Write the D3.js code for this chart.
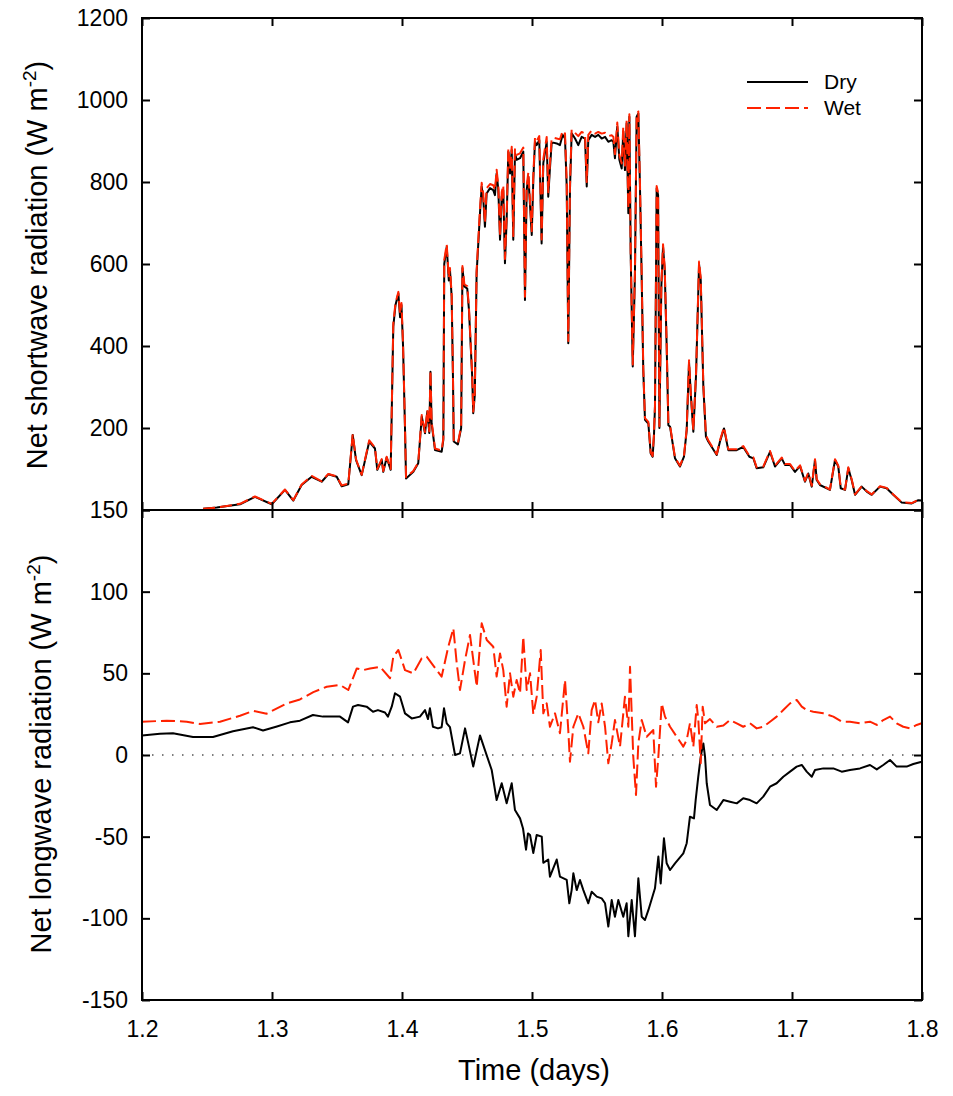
<!DOCTYPE html>
<html>
<head>
<meta charset="utf-8">
<script src="https://cdn.jsdelivr.net/npm/d3@7"></script>
<style>
  body { margin: 0; background: #fff; }
  svg { display: block; font-family: "Liberation Sans", Arial, sans-serif; }
</style>
</head>
<body>
<svg id="chart" width="953" height="1096"></svg>
<script>
// shortwave (top panel) - dry and wet share the same sample times
const swTime = [1.2470, 1.2575, 1.2754, 1.2869, 1.2998, 1.3100, 1.3164, 1.3228, 1.3305, 1.3382,
  1.3433, 1.3498, 1.3536, 1.3587, 1.3621, 1.3646, 1.3690, 1.3748, 1.3792, 1.3810,
  1.3844, 1.3856, 1.3882, 1.3913, 1.3933, 1.3950, 1.3972, 1.3985, 1.3996, 1.4008,
  1.4023, 1.4031, 1.4087, 1.4125, 1.4152, 1.4177, 1.4195, 1.4210, 1.4219, 1.4228,
  1.4254, 1.4305, 1.4318, 1.4325, 1.4344, 1.4360, 1.4369, 1.4382, 1.4392, 1.4398,
  1.4430, 1.4455, 1.4465, 1.4480, 1.4502, 1.4515, 1.4540, 1.4548, 1.4560, 1.4574,
  1.4600, 1.4613, 1.4625, 1.4638, 1.4651, 1.4677, 1.4702, 1.4715, 1.4728, 1.4741,
  1.4754, 1.4767, 1.4779, 1.4792, 1.4805, 1.4818, 1.4831, 1.4844, 1.4856, 1.4869,
  1.4882, 1.4908, 1.4933, 1.4946, 1.4959, 1.4972, 1.4998, 1.5010, 1.5023, 1.5036,
  1.5056, 1.5074, 1.5087, 1.5113, 1.5125, 1.5138, 1.5151, 1.5164, 1.5190, 1.5215,
  1.5236, 1.5254, 1.5267, 1.5279, 1.5292, 1.5305, 1.5331, 1.5356, 1.5382, 1.5408,
  1.5421, 1.5433, 1.5459, 1.5485, 1.5510, 1.5536, 1.5562, 1.5587, 1.5613, 1.5626,
  1.5638, 1.5656, 1.5672, 1.5690, 1.5702, 1.5715, 1.5728, 1.5741, 1.5749, 1.5759,
  1.5775, 1.5792, 1.5805, 1.5818, 1.5831, 1.5844, 1.5856, 1.5869, 1.5895, 1.5913,
  1.5928, 1.5938, 1.5946, 1.5959, 1.5970, 1.5980, 1.5995, 1.6008, 1.6021, 1.6036,
  1.6049, 1.6062, 1.6100, 1.6138, 1.6169, 1.6190, 1.6208, 1.6222, 1.6241, 1.6262,
  1.6285, 1.6298, 1.6318, 1.6338, 1.6356, 1.6421, 1.6446, 1.6477, 1.6510, 1.6574,
  1.6625, 1.6672, 1.6703, 1.6728, 1.6779, 1.6831, 1.6869, 1.6921, 1.6946, 1.6985,
  1.7023, 1.7062, 1.7100, 1.7125, 1.7152, 1.7177, 1.7190, 1.7215, 1.7292, 1.7331,
  1.7356, 1.7375, 1.7408, 1.7433, 1.7459, 1.7485, 1.7536, 1.7575, 1.7613, 1.7677,
  1.7728, 1.7779, 1.7844, 1.7921, 1.7972, 1.8000];

const swDry = [3, 6, 14, 32, 14, 49, 23, 61, 81, 69,
  87, 81, 58, 63, 183, 122, 85, 167, 150, 98,
  122, 93, 128, 98, 447, 500, 528, 470, 500, 400,
  200, 77, 93, 114, 228, 187, 240, 188, 337, 211,
  146, 142, 171, 600, 642, 560, 585, 520, 325, 167,
  160, 200, 590, 545, 540, 488, 325, 236, 280, 577,
  724, 789, 760, 691, 772, 785, 780, 768, 821, 780,
  659, 764, 780, 602, 707, 874, 821, 878, 659, 870,
  854, 858, 874, 512, 780, 813, 671, 805, 898, 890,
  902, 650, 846, 898, 764, 833, 894, 896, 894, 890,
  915, 906, 789, 407, 780, 919, 906, 890, 910, 906,
  789, 902, 915, 910, 915, 906, 910, 898, 902, 898,
  858, 935, 854, 833, 923, 829, 943, 724, 959, 626,
  350, 577, 959, 967, 780, 561, 341, 220, 211, 138,
  130, 180, 252, 785, 768, 200, 545, 642, 585, 398,
  207, 203, 126, 106, 130, 195, 360, 280, 191, 330,
  600, 560, 301, 179, 167, 134, 167, 199, 146, 146,
  154, 130, 126, 102, 104, 142, 106, 126, 110, 110,
  93, 107, 69, 89, 57, 122, 73, 61, 49, 122,
  106, 53, 49, 102, 73, 37, 57, 45, 37, 57,
  53, 37, 18, 16, 24, 23];

const swWet = [3, 6, 15, 33, 15, 50, 24, 62, 83, 70,
  88, 82, 60, 64, 185, 124, 86, 170, 152, 100,
  124, 95, 130, 100, 455, 505, 532, 478, 505, 405,
  205, 80, 95, 116, 232, 190, 244, 192, 340, 215,
  150, 145, 175, 610, 648, 566, 590, 526, 330, 170,
  163, 204, 595, 550, 546, 494, 330, 240, 285, 585,
  735, 798, 772, 700, 785, 795, 792, 780, 830, 790,
  668, 775, 792, 612, 718, 882, 832, 886, 668, 880,
  866, 870, 884, 520, 790, 824, 680, 815, 908, 900,
  912, 660, 856, 910, 775, 845, 905, 908, 906, 904,
  925, 918, 800, 412, 792, 928, 920, 912, 922, 918,
  800, 915, 926, 918, 922, 918, 920, 912, 914, 910,
  868, 945, 865, 845, 935, 840, 950, 735, 965, 635,
  355, 585, 965, 972, 790, 570, 346, 224, 215, 140,
  132, 184, 256, 790, 774, 204, 550, 648, 590, 404,
  210, 206, 128, 108, 132, 198, 365, 284, 194, 335,
  606, 566, 305, 182, 170, 136, 170, 202, 148, 148,
  156, 132, 128, 104, 106, 144, 108, 128, 112, 112,
  95, 109, 71, 91, 59, 124, 75, 63, 50, 124,
  108, 55, 50, 104, 75, 38, 58, 46, 38, 58,
  54, 38, 19, 17, 25, 24];

// longwave (bottom panel)
const lwDryTime = [1.2000, 1.2138, 1.2238, 1.2392, 1.2546, 1.2700, 1.2854, 1.2931, 1.3038, 1.3138,
  1.3215, 1.3315, 1.3392, 1.3523, 1.3585, 1.3623, 1.3662, 1.3728, 1.3777, 1.3815,
  1.3869, 1.3892, 1.3921, 1.3946, 1.3985, 1.4023, 1.4075, 1.4138, 1.4177, 1.4200,
  1.4215, 1.4238, 1.4277, 1.4305, 1.4323, 1.4344, 1.4369, 1.4408, 1.4446, 1.4485,
  1.4510, 1.4548, 1.4600, 1.4638, 1.4690, 1.4728, 1.4767, 1.4805, 1.4844, 1.4869,
  1.4908, 1.4931, 1.4954, 1.4969, 1.4985, 1.5010, 1.5036, 1.5075, 1.5087, 1.5125,
  1.5138, 1.5190, 1.5215, 1.5267, 1.5287, 1.5305, 1.5318, 1.5344, 1.5369, 1.5395,
  1.5433, 1.5459, 1.5498, 1.5536, 1.5562, 1.5587, 1.5613, 1.5638, 1.5664, 1.5702,
  1.5728, 1.5741, 1.5767, 1.5792, 1.5818, 1.5844, 1.5869, 1.5895, 1.5946, 1.5972,
  1.5990, 1.6015, 1.6036, 1.6062, 1.6100, 1.6164, 1.6190, 1.6215, 1.6246, 1.6259,
  1.6279, 1.6298, 1.6318, 1.6331, 1.6344, 1.6369, 1.6421, 1.6472, 1.6523, 1.6575,
  1.6625, 1.6677, 1.6728, 1.6779, 1.6831, 1.6882, 1.6933, 1.6985, 1.7036, 1.7075,
  1.7113, 1.7152, 1.7177, 1.7241, 1.7318, 1.7382, 1.7446, 1.7523, 1.7600, 1.7652,
  1.7702, 1.7754, 1.7805, 1.7882, 1.7933, 1.7998];

const lwDry = [12, 13, 13.3, 11, 11, 14.5, 17, 15, 17.5, 20,
  21, 24.5, 23.5, 23.5, 20, 29.6, 30.6, 29.6, 26.5, 27.5,
  26, 23.5, 29.6, 37.8, 35.7, 25.5, 22.4, 23.5, 27.5, 22,
  28.6, 17.3, 16.3, 17, 28.6, 19.4, 17, 0, 1, 16.3,
  7.1, -7.1, 12, 3, -9.2, -27.6, -17.3, -29.6, -17.3, -33.7,
  -38.8, -45, -58, -48, -49, -60, -49, -50, -66, -64,
  -74.5, -64, -74.5, -76.5, -90.8, -82.7, -72.4, -82.7, -76.5, -82.7,
  -90.8, -83.7, -86.7, -87.8, -90.8, -105, -88.8, -99, -88.8, -99,
  -90.8, -111, -88.8, -111, -75.5, -99, -101, -95, -81.6, -62.2,
  -78.6, -51, -66.3, -70.4, -66.3, -60.2, -54, -37.8, -38.8, -27.6,
  -13.3, -1, 7.1, -1, -17.3, -30.6, -33.7, -27.6, -28.6, -29.6,
  -26.5, -27.6, -29.6, -25.5, -19.4, -17.3, -13.3, -10.2, -7.1, -6.1,
  -10.2, -13.3, -9.2, -8.2, -8.2, -10.2, -9.2, -8.2, -6.1, -8.8,
  -6.1, -3.1, -7.1, -7.1, -5.5, -4.1];

const lwWetTime = [1.2000, 1.2190, 1.2344, 1.2446, 1.2600, 1.2754, 1.2856, 1.2959, 1.3113, 1.3215,
  1.3318, 1.3421, 1.3523, 1.3587, 1.3652, 1.3702, 1.3754, 1.3831, 1.3908, 1.3933,
  1.3972, 1.4023, 1.4087, 1.4152, 1.4190, 1.4228, 1.4305, 1.4356, 1.4395, 1.4421,
  1.4446, 1.4485, 1.4523, 1.4575, 1.4613, 1.4652, 1.4702, 1.4728, 1.4754, 1.4779,
  1.4805, 1.4831, 1.4856, 1.4882, 1.4908, 1.4933, 1.4959, 1.4985, 1.5010, 1.5036,
  1.5067, 1.5087, 1.5113, 1.5138, 1.5177, 1.5215, 1.5254, 1.5279, 1.5292, 1.5318,
  1.5356, 1.5395, 1.5433, 1.5459, 1.5485, 1.5510, 1.5536, 1.5562, 1.5587, 1.5613,
  1.5638, 1.5677, 1.5715, 1.5741, 1.5754, 1.5779, 1.5800, 1.5818, 1.5844, 1.5882,
  1.5933, 1.5954, 1.5972, 1.5998, 1.6023, 1.6062, 1.6113, 1.6164, 1.6190, 1.6215,
  1.6241, 1.6267, 1.6279, 1.6298, 1.6313, 1.6331, 1.6369, 1.6421, 1.6472, 1.6523,
  1.6575, 1.6625, 1.6677, 1.6728, 1.6779, 1.6831, 1.6882, 1.6933, 1.6985, 1.7036,
  1.7075, 1.7113, 1.7164, 1.7241, 1.7318, 1.7382, 1.7446, 1.7523, 1.7600, 1.7652,
  1.7702, 1.7754, 1.7805, 1.7856, 1.7908, 1.7959, 1.7998];

const lwWet = [20.4, 21, 20.4, 19, 20.4, 24, 27, 25.3, 31.6, 34,
  38.5, 41.8, 42.9, 39.8, 53, 52, 53, 54, 47, 60.2,
  64.3, 52, 50, 59.2, 60.2, 56.1, 48, 66.3, 77.6, 56.1,
  39.8, 58.2, 73.5, 41.8, 80.6, 70.4, 66.3, 48, 62.2, 52,
  29.6, 50, 35.7, 45.9, 37.8, 72.4, 39.8, 50, 25, 35.7,
  64.3, 25.5, 31.6, 17.3, 25.5, 13.3, 45.9, 15.3, -4.1, 17.3,
  25.5, 17.3, 1, 27.5, 33.7, 20, 31.6, 17.3, -5.1, 7.1,
  21.4, 5.1, 35.7, 17.3, 54, -1, -24.5, 7.1, 21.4, 11.2,
  15.3, -19.4, -1, 31.6, 23.5, 17.3, 11.2, 5.1, 9.2, 19.4,
  5.1, 30.6, 22, -5.1, 29.6, 19.4, 22, 17.3, 18, 21.4,
  19.4, 17.3, 19.4, 16.3, 17.3, 20.4, 23.5, 27.5, 31.6, 33.7,
  29.6, 27.5, 26.5, 25.5, 23.5, 20.4, 20.4, 19.4, 20.4, 18.4,
  21.4, 23.5, 19.4, 17.3, 16.3, 18.4, 19.4];

const seriesNames = ["Dry", "Wet"];
const xTicks = [1.2, 1.3, 1.4, 1.5, 1.6, 1.7, 1.8];
const swTicks = [0, 200, 400, 600, 800, 1000, 1200];
const lwTicks = [-150, -100, -50, 0, 50, 100, 150];

const RED = "#ff2200";
const svg = d3.select("#chart");

const x = d3.scaleLinear().domain([1.2, 1.8]).range([142, 922]);
const ySw = d3.scaleLinear().domain([0, 1200]).range([510, 18]);
const yLw = d3.scaleLinear().domain([-150, 150]).range([1000, 510]);

function styleAxis(g) {
  g.select(".domain").remove();
  g.selectAll(".tick line").attr("stroke", "#000").attr("stroke-width", 2);
  g.selectAll(".tick text")
    .attr("fill", "#000")
    .style("font-size", "23px")
    .style("font-family", '"Liberation Sans", Arial, sans-serif');
}

function drawPanel(y, yTicks, top, bottom, opts) {
  const fmtY = d => (opts.hideZero && d === 0) ? "" : d;

  svg.append("g").attr("transform", "translate(142,0)")
    .call(d3.axisLeft(y).tickValues(yTicks).tickSize(-8).tickPadding(14).tickFormat(fmtY))
    .call(styleAxis);
  svg.append("g").attr("transform", "translate(922,0)")
    .call(d3.axisRight(y).tickValues(yTicks).tickSize(-8).tickFormat(""))
    .call(styleAxis);
  svg.append("g").attr(`transform`, `translate(0,${top})`)
    .call(d3.axisTop(x).tickValues(xTicks).tickSize(-8).tickFormat(""))
    .call(styleAxis);
  svg.append("g").attr(`transform`, `translate(0,${bottom})`)
    .call(d3.axisBottom(x).tickValues(xTicks).tickSize(-8).tickPadding(21)
      .tickFormat(opts.showX ? d3.format(".1f") : ""))
    .call(styleAxis);

  // frame
  svg.append("rect")
    .attr("x", 142).attr("y", top)
    .attr("width", 780).attr("height", bottom - top)
    .attr("fill", "none").attr("stroke", "#000").attr("stroke-width", 2);
}

function drawSeries(times, values, y, color, dash, clipId) {
  const line = d3.line().x(d => x(d[0])).y(d => y(d[1]));
  svg.append("path")
    .datum(times.map((t, i) => [t, values[i]]))
    .attr("d", line)
    .attr("clip-path", `url(#${clipId})`)
    .attr("fill", "none")
    .attr("stroke", color)
    .attr("stroke-width", 2)
    .attr("stroke-linejoin", "round")
    .attr("stroke-dasharray", dash);
}

function drawChart() {
  svg.append("rect").attr("width", 953).attr("height", 1096).attr("fill", "#fff");

  const defs = svg.append("defs");
  defs.append("clipPath").attr("id", "clipTop")
    .append("rect").attr("x", 142).attr("y", 18).attr("width", 780).attr("height", 492);
  defs.append("clipPath").attr("id", "clipBottom")
    .append("rect").attr("x", 142).attr("y", 510).attr("width", 780).attr("height", 490);

  // zero line in the longwave panel
  svg.append("line")
    .attr("x1", 142).attr("x2", 922)
    .attr("y1", yLw(0)).attr("y2", yLw(0))
    .attr("stroke", "#000").attr("stroke-width", 1.2)
    .attr("stroke-dasharray", "1.5,8.5");

  drawSeries(swTime, swDry, ySw, "#000", null, "clipTop");
  drawSeries(swTime, swWet, ySw, RED, "12,5", "clipTop");
  drawSeries(lwDryTime, lwDry, yLw, "#000", null, "clipBottom");
  drawSeries(lwWetTime, lwWet, yLw, RED, "14,5", "clipBottom");

  drawPanel(ySw, swTicks, 18, 510, { hideZero: true, showX: false });
  drawPanel(yLw, lwTicks, 510, 1000, { hideZero: false, showX: true });

  // axis titles
  const title = (tx, ty, text) => {
    const t = svg.append("text")
      .attr("transform", `translate(${tx},${ty}) rotate(-90)`)
      .attr("text-anchor", "middle")
      .style("font-size", "29px")
      .attr("fill", "#000");
    t.append("tspan").text(text);
    t.append("tspan").attr("dy", -11).style("font-size", "19px").text("-2");
    t.append("tspan").attr("dy", 11).text(")");
  };
  title(47, 265, "Net shortwave radiation (W m");
  title(51, 754, "Net longwave radiation (W m");

  svg.append("text")
    .attr("x", 534).attr("y", 1080)
    .attr("text-anchor", "middle")
    .style("font-size", "29px")
    .attr("fill", "#000")
    .text("Time (days)");

  // legend
  const legend = svg.append("g");
  const styles = [{ color: "#000", dash: null }, { color: RED, dash: "14,5" }];
  seriesNames.forEach((name, i) => {
    const ly = 82 + i * 26;
    legend.append("line")
      .attr("x1", 747).attr("x2", 808)
      .attr("y1", ly).attr("y2", ly)
      .attr("stroke", styles[i].color)
      .attr("stroke-width", 2)
      .attr("stroke-dasharray", styles[i].dash);
    legend.append("text")
      .attr("x", 824).attr("y", ly + 7)
      .style("font-size", "21px")
      .attr("fill", "#000")
      .text(name);
  });
}

document.addEventListener('DOMContentLoaded', drawChart);
</script>
</body>
</html>
